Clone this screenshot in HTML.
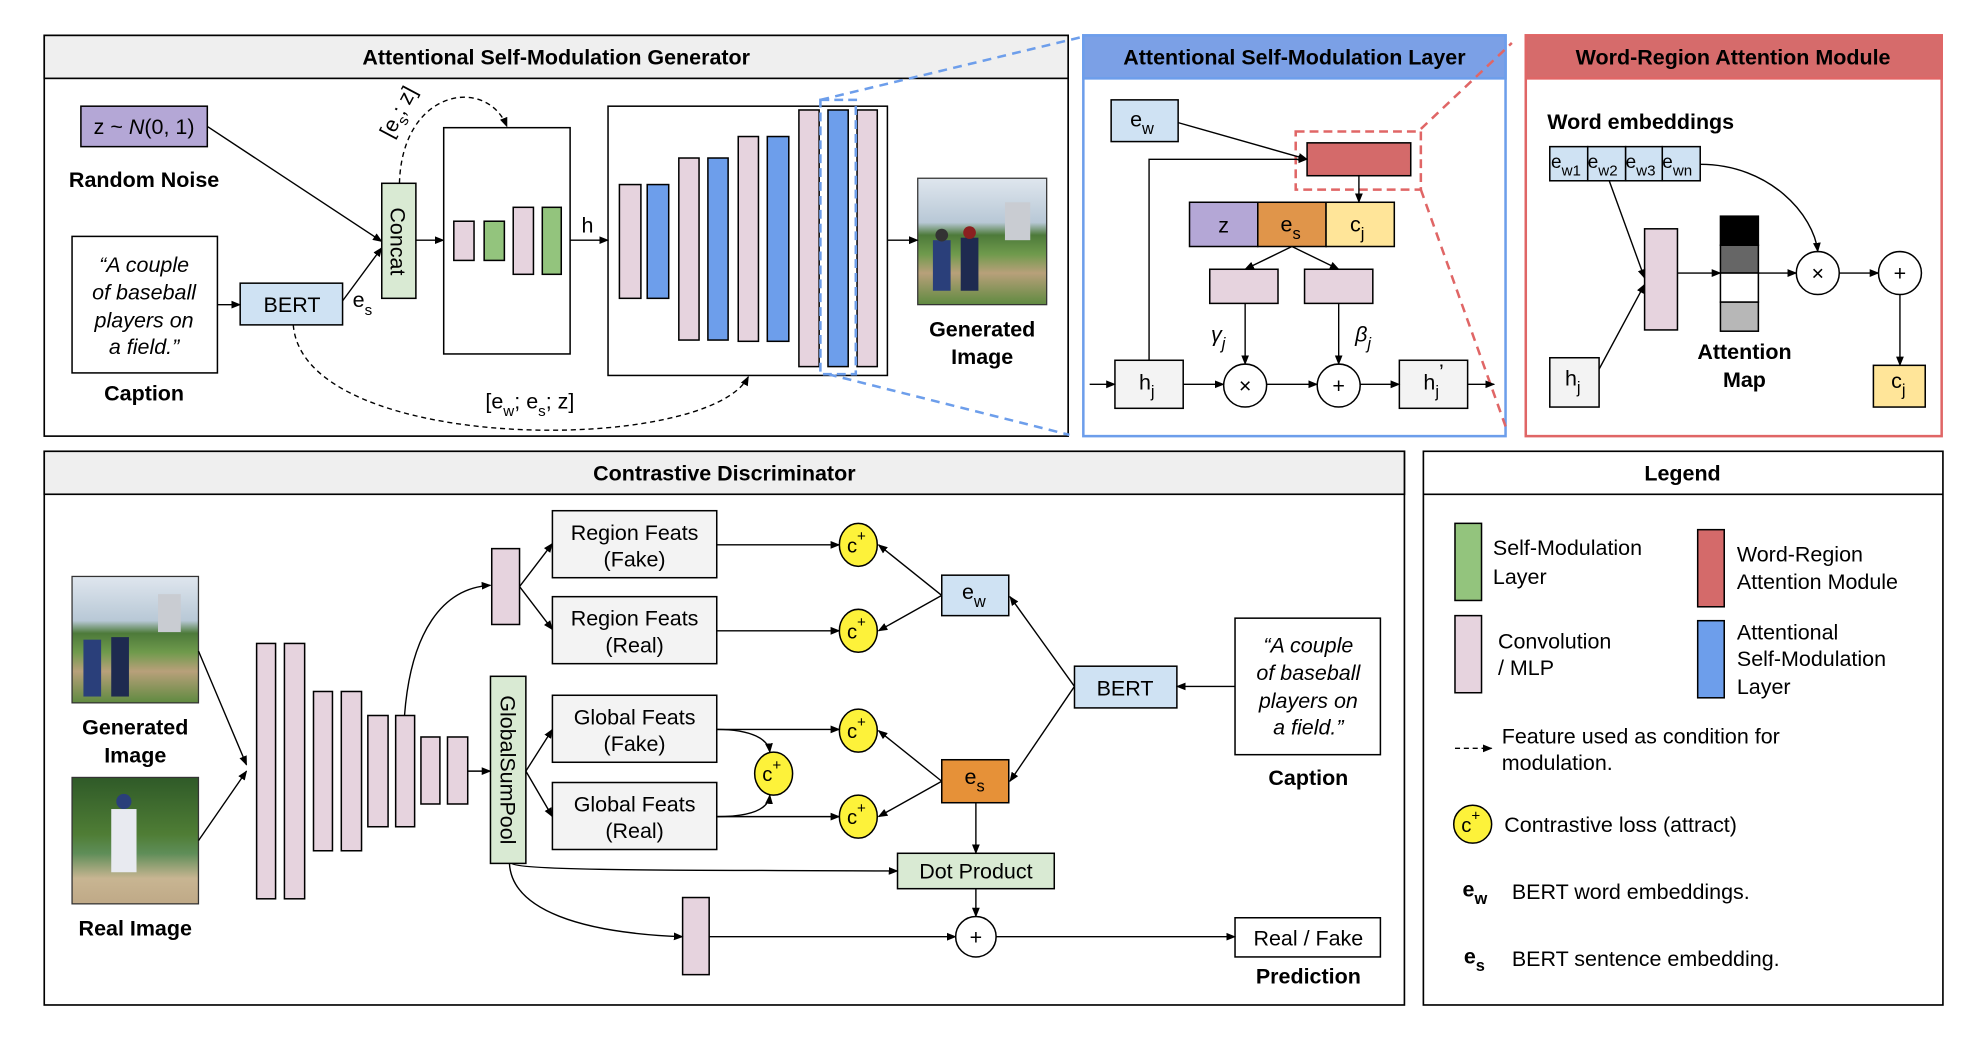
<!DOCTYPE html>
<html><head><meta charset="utf-8"><style>
html,body{margin:0;padding:0;background:#fff;}
svg{display:block;}
text{font-family:"Liberation Sans",sans-serif;fill:#000;}
.t{font-size:17px;font-weight:bold;text-anchor:middle;}
.b{font-size:17px;font-weight:bold;text-anchor:middle;}
.n{font-size:17px;text-anchor:middle;}
.i{font-size:17px;font-style:italic;text-anchor:middle;}
.l{font-size:17px;}
</style></head><body>
<svg width="1972" height="1040" viewBox="0 0 1560 822.7" preserveAspectRatio="none" xmlns="http://www.w3.org/2000/svg">
<defs>
<marker id="a" viewBox="0 0 10 10" refX="9" refY="5" markerWidth="7" markerHeight="7" orient="auto-start-reverse"><path d="M0,1 L10,5 L0,9 z" fill="#000"/></marker>
<linearGradient id="sky" x1="0" y1="0" x2="0" y2="1"><stop offset="0" stop-color="#dfe6ee"/><stop offset="0.35" stop-color="#b8c8d6"/><stop offset="0.45" stop-color="#4d7a3a"/><stop offset="0.6" stop-color="#6f9a4c"/><stop offset="0.75" stop-color="#b8a07a"/><stop offset="1" stop-color="#5f8a40"/></linearGradient>
<linearGradient id="real" x1="0" y1="0" x2="0" y2="1"><stop offset="0" stop-color="#2f5a28"/><stop offset="0.45" stop-color="#4f7d35"/><stop offset="0.6" stop-color="#5e8d58"/><stop offset="0.8" stop-color="#c8b592"/><stop offset="1" stop-color="#bfa987"/></linearGradient>
</defs>
<g stroke="#000" stroke-width="1.3" fill="none">
<!-- Panels -->
<rect x="35" y="28" width="810" height="317" fill="#fff"/>
<rect x="35" y="28" width="810" height="34" fill="#efefef"/>
<rect x="857" y="28" width="334" height="317" fill="#fff" stroke="#6d9eeb" stroke-width="2"/>
<rect x="857" y="28" width="334" height="34" fill="#7ba0e6" stroke="#6d9eeb" stroke-width="2"/>
<rect x="1207" y="28" width="329" height="317" fill="#fff" stroke="#e06666" stroke-width="2"/>
<rect x="1207" y="28" width="329" height="34" fill="#d66b6b" stroke="#e06666" stroke-width="2"/>
<rect x="35" y="357" width="1076" height="438" fill="#fff"/>
<rect x="35" y="357" width="1076" height="34" fill="#efefef"/>
<rect x="1126" y="357" width="411" height="438" fill="#fff"/>
<line x1="1126" y1="391" x2="1537" y2="391"/>
</g>
<text class="t" x="440" y="51">Attentional Self-Modulation Generator</text>
<text class="t" x="1024" y="51">Attentional Self-Modulation Layer</text>
<text class="t" x="1371" y="51">Word-Region Attention Module</text>
<text class="t" x="573" y="380">Contrastive Discriminator</text>
<text class="t" x="1331" y="380">Legend</text>

<!-- ===== Generator ===== -->
<g stroke="#000" stroke-width="1.2">
<rect x="64" y="84" width="100" height="32" fill="#b4a7d6"/>
<rect x="57" y="187" width="115" height="108" fill="#fff"/>
<rect x="190" y="224" width="81" height="33" fill="#cfe2f3"/>
<rect x="302" y="145" width="27" height="91" fill="#d9ead3"/>
<rect x="351" y="101" width="100" height="179" fill="#fff"/>
<rect x="359" y="175" width="16" height="31" fill="#e6d3de"/>
<rect x="383" y="175" width="16" height="31" fill="#93c47d"/>
<rect x="406" y="164" width="16" height="53" fill="#e6d3de"/>
<rect x="429" y="164" width="15" height="53" fill="#93c47d"/>
<rect x="481" y="84" width="221" height="213" fill="#fff"/>
<rect x="490" y="146" width="17" height="90" fill="#e6d3de"/>
<rect x="512" y="146" width="17" height="90" fill="#6d9eeb"/>
<rect x="537" y="125" width="16" height="144" fill="#e6d3de"/>
<rect x="560" y="125" width="16" height="144" fill="#6d9eeb"/>
<rect x="584" y="108" width="16" height="162" fill="#e6d3de"/>
<rect x="607" y="108" width="17" height="162" fill="#6d9eeb"/>
<rect x="632" y="87" width="16" height="203" fill="#e6d3de"/>
<rect x="655" y="87" width="16" height="203" fill="#6d9eeb"/>
<rect x="678" y="87" width="16" height="203" fill="#e6d3de"/>
</g>
<rect x="649" y="79" width="28" height="217" fill="none" stroke="#6d9eeb" stroke-width="2" stroke-dasharray="7,4"/>
<line x1="649" y1="79" x2="857" y2="29" stroke="#6d9eeb" stroke-width="2" stroke-dasharray="7,5"/>
<line x1="655" y1="296" x2="846" y2="344" stroke="#6d9eeb" stroke-width="2" stroke-dasharray="7,5"/>
<!-- generated image -->
<rect x="726" y="141" width="102" height="100" fill="url(#sky)" stroke="#333"/>
<rect x="795" y="160" width="20" height="30" fill="#c9ccd2"/>
<rect x="738" y="190" width="14" height="40" fill="#2a3f7a"/><rect x="760" y="188" width="14" height="42" fill="#1e2a50"/>
<circle cx="745" cy="186" r="5" fill="#333"/><circle cx="767" cy="184" r="5" fill="#8a2020"/>

<g stroke="#000" stroke-width="1.1" fill="none">
<line x1="164" y1="100" x2="302" y2="191" marker-end="url(#a)"/>
<line x1="271" y1="238" x2="302" y2="196" marker-end="url(#a)"/>
<line x1="172" y1="241" x2="190" y2="241" marker-end="url(#a)"/>
<line x1="329" y1="190" x2="351" y2="190" marker-end="url(#a)"/>
<line x1="451" y1="190" x2="481" y2="190" marker-end="url(#a)"/>
<line x1="702" y1="190" x2="726" y2="190" marker-end="url(#a)"/>
<path d="M316,145 C318,70 385,60 401,100" stroke-dasharray="4,3" marker-end="url(#a)"/>
<path d="M232,257 C240,360 560,360 592,298" stroke-dasharray="4,3" marker-end="url(#a)"/>
</g>
<text class="n" x="114" y="106">z ~ <tspan font-style="italic">N</tspan>(0, 1)</text>
<text class="b" x="114" y="148">Random Noise</text>
<text class="i" x="114" y="215">“A couple</text>
<text class="i" x="114" y="237">of baseball</text>
<text class="i" x="114" y="259">players on</text>
<text class="i" x="114" y="280">a field.”</text>
<text class="b" x="114" y="317">Caption</text>
<text class="n" x="231" y="247" font-size="15">BERT</text>
<text class="l" x="279" y="243">e<tspan font-size="12" dy="6">s</tspan></text>
<text class="n" x="0" y="0" transform="translate(309,191) rotate(90)" text-anchor="middle">Concat</text>
<text class="l" x="0" y="0" transform="translate(310,110) rotate(-62)">[e<tspan font-size="12" dy="5">s</tspan><tspan dy="-5">; z]</tspan></text>
<text class="l" x="460" y="184">h</text>
<text class="b" x="777" y="266">Generated</text>
<text class="b" x="777" y="288">Image</text>
<text class="l" x="384" y="323">[e<tspan font-size="12" dy="6">w</tspan><tspan dy="-6">; e</tspan><tspan font-size="12" dy="6">s</tspan><tspan dy="-6">; z]</tspan></text>

<!-- ===== ASM Layer ===== -->
<g stroke="#000" stroke-width="1.2">
<rect x="879" y="79" width="53" height="33" fill="#cfe2f3"/>
<rect x="1034" y="113" width="82" height="26" fill="#d46a6a"/>
<rect x="941" y="160" width="54" height="35" fill="#b4a7d6"/>
<rect x="995" y="160" width="54" height="35" fill="#e0954a"/>
<rect x="1049" y="160" width="54" height="35" fill="#ffe599"/>
<rect x="957" y="213" width="54" height="27" fill="#e6d3de"/>
<rect x="1032" y="213" width="54" height="27" fill="#e6d3de"/>
<rect x="882" y="285" width="54" height="38" fill="#f3f3f3"/>
<rect x="1107" y="285" width="54" height="38" fill="#f3f3f3"/>
<circle cx="985" cy="305" r="17" fill="#fff"/>
<circle cx="1059" cy="305" r="17" fill="#fff"/>
</g>
<rect x="1025" y="104" width="99" height="46" fill="none" stroke="#e06666" stroke-width="2" stroke-dasharray="7,4"/>
<line x1="1124" y1="102" x2="1196" y2="34" stroke="#e06666" stroke-width="2" stroke-dasharray="7,5"/>
<line x1="1124" y1="150" x2="1192" y2="340" stroke="#e06666" stroke-width="2" stroke-dasharray="7,5"/>
<g stroke="#000" stroke-width="1.1" fill="none">
<line x1="932" y1="97" x2="1034" y2="126" marker-end="url(#a)"/>
<polyline points="909,285 909,126 1034,126" marker-end="url(#a)"/>
<line x1="1075" y1="139" x2="1075" y2="160" marker-end="url(#a)"/>
<line x1="1022" y1="195" x2="985" y2="213" marker-end="url(#a)"/>
<line x1="1022" y1="195" x2="1059" y2="213" marker-end="url(#a)"/>
<line x1="985" y1="240" x2="985" y2="288" marker-end="url(#a)"/>
<line x1="1059" y1="240" x2="1059" y2="288" marker-end="url(#a)"/>
<line x1="862" y1="304" x2="882" y2="304" marker-end="url(#a)"/>
<line x1="936" y1="304" x2="968" y2="304" marker-end="url(#a)"/>
<line x1="1002" y1="304" x2="1042" y2="304" marker-end="url(#a)"/>
<line x1="1076" y1="304" x2="1107" y2="304" marker-end="url(#a)"/>
<line x1="1161" y1="304" x2="1182" y2="304" marker-end="url(#a)"/>
</g>
<text class="l" x="894" y="100">e<tspan font-size="13" dy="6">w</tspan></text>
<text class="n" x="968" y="184">z</text>
<text class="l" x="1013" y="183">e<tspan font-size="13" dy="6">s</tspan></text>
<text class="l" x="1068" y="183">c<tspan font-size="13" dy="6">j</tspan></text>
<text class="l" x="958" y="270" font-style="italic">γ<tspan font-size="13" dy="6">j</tspan></text>
<text class="l" x="1072" y="270" font-style="italic">β<tspan font-size="13" dy="6">j</tspan></text>
<text class="n" x="985" y="311">×</text>
<text class="n" x="1059" y="311">+</text>
<text class="l" x="901" y="308">h<tspan font-size="13" dy="6">j</tspan></text>
<text class="l" x="1126" y="308">h<tspan font-size="13" dy="6">j</tspan><tspan dy="-14">’</tspan></text>

<!-- ===== Word-Region ===== -->
<text class="l" x="1224" y="102" font-weight="bold">Word embeddings</text>
<g stroke="#000" stroke-width="1.2">
<rect x="1226" y="116" width="30" height="27" fill="#cfe2f3"/>
<rect x="1256" y="116" width="30" height="27" fill="#cfe2f3"/>
<rect x="1286" y="116" width="29" height="27" fill="#cfe2f3"/>
<rect x="1315" y="116" width="30" height="27" fill="#cfe2f3"/>
<rect x="1301" y="181" width="26" height="80" fill="#e6d3de"/>
<rect x="1361" y="171" width="30" height="23" fill="#000"/>
<rect x="1361" y="194" width="30" height="22" fill="#666"/>
<rect x="1361" y="216" width="30" height="23" fill="#fff"/>
<rect x="1361" y="239" width="30" height="23" fill="#b7b7b7"/>
<rect x="1226" y="283" width="39" height="39" fill="#f3f3f3"/>
<rect x="1482" y="289" width="41" height="33" fill="#ffe599"/>
<circle cx="1438" cy="216" r="17" fill="#fff"/>
<circle cx="1503" cy="216" r="17" fill="#fff"/>
</g>
<g stroke="#000" stroke-width="1.1" fill="none">
<line x1="1273" y1="143" x2="1301" y2="220" marker-end="url(#a)"/>
<line x1="1265" y1="292" x2="1301" y2="225" marker-end="url(#a)"/>
<line x1="1327" y1="216" x2="1361" y2="216" marker-end="url(#a)"/>
<line x1="1391" y1="216" x2="1421" y2="216" marker-end="url(#a)"/>
<path d="M1345,130 C1400,130 1435,170 1438,199" marker-end="url(#a)"/>
<line x1="1455" y1="216" x2="1486" y2="216" marker-end="url(#a)"/>
<line x1="1503" y1="233" x2="1503" y2="289" marker-end="url(#a)"/>
</g>
<g font-size="15">
<text x="1227" y="133" font-size="15">e<tspan font-size="12" dy="6">w1</tspan></text>
<text x="1256" y="133" font-size="15">e<tspan font-size="12" dy="6">w2</tspan></text>
<text x="1286" y="133" font-size="15">e<tspan font-size="12" dy="6">w3</tspan></text>
<text x="1315" y="133" font-size="15">e<tspan font-size="12" dy="6">wn</tspan></text>
</g>
<text class="n" x="1438" y="222">×</text>
<text class="n" x="1503" y="222">+</text>
<text class="l" x="1238" y="305">h<tspan font-size="13" dy="6">j</tspan></text>
<text class="l" x="1496" y="307">c<tspan font-size="13" dy="6">j</tspan></text>
<text class="b" x="1380" y="284">Attention</text>
<text class="b" x="1380" y="306">Map</text>

<!-- ===== Discriminator ===== -->
<rect x="57" y="456" width="100" height="100" fill="url(#sky)" stroke="#333"/>
<rect x="125" y="470" width="18" height="30" fill="#c9ccd2"/>
<rect x="66" y="506" width="14" height="45" fill="#2a3f7a"/><rect x="88" y="504" width="14" height="47" fill="#1e2a50"/>
<rect x="57" y="615" width="100" height="100" fill="url(#real)" stroke="#333"/>
<rect x="88" y="640" width="20" height="50" fill="#e8eaf0"/><circle cx="98" cy="634" r="6" fill="#2a3f7a"/>
<text class="b" x="107" y="581">Generated</text>
<text class="b" x="107" y="603">Image</text>
<text class="b" x="107" y="740">Real Image</text>
<g stroke="#000" stroke-width="1.2" fill="#e6d3de">
<rect x="203" y="509" width="15" height="202"/>
<rect x="225" y="509" width="16" height="202"/>
<rect x="248" y="547" width="15" height="126"/>
<rect x="270" y="547" width="16" height="126"/>
<rect x="291" y="566" width="16" height="88"/>
<rect x="313" y="566" width="15" height="88"/>
<rect x="333" y="583" width="15" height="53"/>
<rect x="354" y="583" width="16" height="53"/>
<rect x="389" y="434" width="22" height="60"/>
<rect x="540" y="710" width="21" height="61"/>
<rect x="388" y="535" width="28" height="148" fill="#d9ead3"/>
<g fill="#f3f3f3">
<rect x="437" y="404" width="130" height="53"/>
<rect x="437" y="472" width="130" height="53"/>
<rect x="437" y="550" width="130" height="53"/>
<rect x="437" y="619" width="130" height="53"/>
</g>
<rect x="745" y="455" width="53" height="32" fill="#cfe2f3"/>
<rect x="745" y="601" width="53" height="34" fill="#e69138"/>
<rect x="850" y="527" width="81" height="33" fill="#cfe2f3"/>
<rect x="977" y="489" width="115" height="108" fill="#fff"/>
<rect x="710" y="675" width="124" height="28" fill="#d9ead3"/>
<rect x="977" y="726" width="115" height="31" fill="#fff"/>
<circle cx="772" cy="741" r="16" fill="#fff"/>
<g fill="#fdf23a">
<ellipse cx="679" cy="431" rx="15" ry="17"/>
<ellipse cx="679" cy="499" rx="15" ry="17"/>
<ellipse cx="679" cy="578" rx="15" ry="17"/>
<ellipse cx="679" cy="646" rx="15" ry="17"/>
<ellipse cx="612" cy="612" rx="15" ry="17"/>
</g>
</g>
<g stroke="#000" stroke-width="1.1" fill="none">
<line x1="157" y1="515" x2="195" y2="605" marker-end="url(#a)"/>
<line x1="157" y1="665" x2="195" y2="610" marker-end="url(#a)"/>
<line x1="370" y1="610" x2="388" y2="610" marker-end="url(#a)"/>
<path d="M320,566 C325,500 350,465 388,463" marker-end="url(#a)"/>
<line x1="411" y1="464" x2="437" y2="430" marker-end="url(#a)"/>
<line x1="411" y1="464" x2="437" y2="498" marker-end="url(#a)"/>
<line x1="416" y1="610" x2="437" y2="577" marker-end="url(#a)"/>
<line x1="416" y1="610" x2="437" y2="646" marker-end="url(#a)"/>
<line x1="567" y1="431" x2="664" y2="431" marker-end="url(#a)"/>
<line x1="567" y1="499" x2="664" y2="499" marker-end="url(#a)"/>
<line x1="567" y1="577" x2="664" y2="577" marker-end="url(#a)"/>
<line x1="567" y1="646" x2="664" y2="646" marker-end="url(#a)"/>
<path d="M567,577 C595,577 608,585 609,595" marker-end="url(#a)"/>
<path d="M567,646 C595,646 608,640 609,629" marker-end="url(#a)"/>
<line x1="745" y1="471" x2="695" y2="431" marker-end="url(#a)"/>
<line x1="745" y1="471" x2="695" y2="499" marker-end="url(#a)"/>
<line x1="745" y1="618" x2="695" y2="578" marker-end="url(#a)"/>
<line x1="745" y1="618" x2="695" y2="646" marker-end="url(#a)"/>
<line x1="850" y1="543" x2="799" y2="472" marker-end="url(#a)"/>
<line x1="850" y1="543" x2="799" y2="618" marker-end="url(#a)"/>
<line x1="977" y1="543" x2="931" y2="543" marker-end="url(#a)"/>
<line x1="772" y1="635" x2="772" y2="675" marker-end="url(#a)"/>
<path d="M405,683 C410,690 600,688 710,689" marker-end="url(#a)"/>
<path d="M403,683 C405,720 460,738 540,741" marker-end="url(#a)"/>
<line x1="561" y1="741" x2="756" y2="741" marker-end="url(#a)"/>
<line x1="772" y1="703" x2="772" y2="725" marker-end="url(#a)"/>
<line x1="788" y1="741" x2="977" y2="741" marker-end="url(#a)"/>
</g>
<text class="n" x="0" y="0" transform="translate(396,609) rotate(90)">GlobalSumPool</text>
<text class="n" x="502" y="427">Region Feats</text><text class="n" x="502" y="448">(Fake)</text>
<text class="n" x="502" y="495">Region Feats</text><text class="n" x="502" y="516">(Real)</text>
<text class="n" x="502" y="573">Global Feats</text><text class="n" x="502" y="594">(Fake)</text>
<text class="n" x="502" y="642">Global Feats</text><text class="n" x="502" y="663">(Real)</text>
<g font-size="16">
<text x="670" y="437">c<tspan font-size="12" dy="-9">+</tspan></text>
<text x="670" y="505">c<tspan font-size="12" dy="-9">+</tspan></text>
<text x="670" y="584">c<tspan font-size="12" dy="-9">+</tspan></text>
<text x="670" y="652">c<tspan font-size="12" dy="-9">+</tspan></text>
<text x="603" y="618">c<tspan font-size="12" dy="-9">+</tspan></text>
</g>
<text class="l" x="761" y="474">e<tspan font-size="13" dy="6">w</tspan></text>
<text class="l" x="763" y="620">e<tspan font-size="13" dy="6">s</tspan></text>
<text class="n" x="890" y="550">BERT</text>
<text class="i" x="1035" y="516">“A couple</text>
<text class="i" x="1035" y="538">of baseball</text>
<text class="i" x="1035" y="560">players on</text>
<text class="i" x="1035" y="581">a field.”</text>
<text class="b" x="1035" y="621">Caption</text>
<text class="n" x="772" y="695">Dot Product</text>
<text class="n" x="772" y="747">+</text>
<text class="n" x="1035" y="748">Real / Fake</text>
<text class="b" x="1035" y="778">Prediction</text>

<!-- ===== Legend ===== -->
<g stroke="#000" stroke-width="1.2">
<rect x="1151" y="414" width="21" height="61" fill="#93c47d"/>
<rect x="1151" y="487" width="21" height="61" fill="#e6d3de"/>
<rect x="1343" y="419" width="21" height="61" fill="#d46a6a"/>
<rect x="1343" y="491" width="21" height="61" fill="#6d9eeb"/>
<circle cx="1165" cy="652" r="15" fill="#fdf23a"/>
</g>
<line x1="1151" y1="592" x2="1180" y2="592" stroke="#000" stroke-width="1.1" stroke-dasharray="4,3" marker-end="url(#a)"/>
<text class="l" x="1181" y="439">Self-Modulation</text><text class="l" x="1181" y="462">Layer</text>
<text class="l" x="1185" y="513">Convolution</text><text class="l" x="1185" y="534">/ MLP</text>
<text class="l" x="1374" y="444">Word-Region</text><text class="l" x="1374" y="466">Attention Module</text>
<text class="l" x="1374" y="506">Attentional</text><text class="l" x="1374" y="527">Self-Modulation</text><text class="l" x="1374" y="549">Layer</text>
<text class="l" x="1188" y="588">Feature used as condition for</text><text class="l" x="1188" y="609">modulation.</text>
<text x="1156" y="658" font-size="16">c<tspan font-size="12" dy="-9">+</tspan></text>
<text class="l" x="1190" y="658">Contrastive loss (attract)</text>
<text class="l" x="1157" y="709" font-weight="bold">e<tspan font-size="13" dy="6">w</tspan></text>
<text class="l" x="1196" y="711">BERT word embeddings.</text>
<text class="l" x="1158" y="762" font-weight="bold">e<tspan font-size="13" dy="6">s</tspan></text>
<text class="l" x="1196" y="764">BERT sentence embedding.</text>
</svg>
</body></html>
